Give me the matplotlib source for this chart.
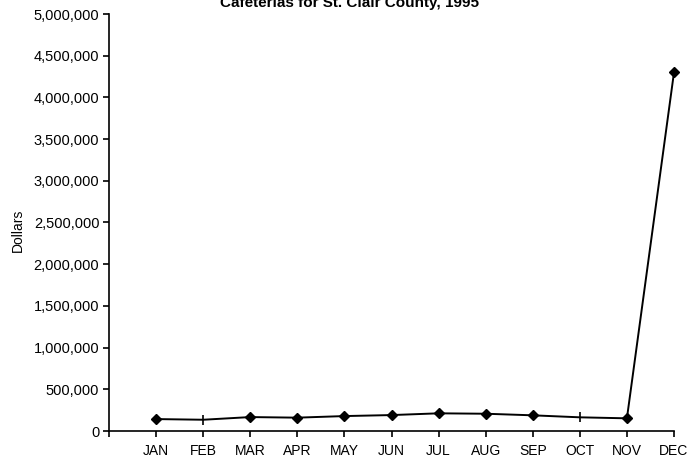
import matplotlib
matplotlib.use('Agg')
import matplotlib.pyplot as plt
from matplotlib.ticker import FuncFormatter

plt.rcParams['font.family'] = ['Liberation Sans', 'DejaVu Sans']

# Monthly cafeteria dollars
months = ['JAN', 'FEB', 'MAR', 'APR', 'MAY', 'JUN',
          'JUL', 'AUG', 'SEP', 'OCT', 'NOV', 'DEC']
dollars = [143000, 135000, 167000, 160000, 179000, 191000,
           212000, 207000, 188000, 164000, 152000, 4300000]
title = 'Cafeterias for St. Clair County, 1995'

fig = plt.figure(figsize=(6.99, 4.61), dpi=100)
ax = fig.add_axes([109 / 699, 1 - 431 / 461, (674 - 109) / 699, (431 - 14) / 461])

x = list(range(1, len(months) + 1))
ax.plot(x, dollars, color='black', linewidth=1.4, zorder=2, clip_on=False)
# Excel drew FEB and OCT with a bar-shaped marker, the rest as diamonds
for xi, yi, m in zip(x, dollars, months):
    if m in ('FEB', 'OCT'):
        ax.plot(xi, yi, marker='|', color='black', markersize=7, mew=1.2,
                zorder=3, clip_on=False)
    else:
        ax.plot(xi, yi, marker='D', color='black', markersize=5.5,
                zorder=3, clip_on=False)

ax.set_xlim(0, 12)
ax.set_ylim(0, 5000000)
ax.set_xticks(range(0, 13))
ax.set_xticklabels([''] + months)
ax.set_yticks(range(0, 5000001, 500000))
ax.yaxis.set_major_formatter(FuncFormatter(lambda v, p: f'{int(v):,}'))

for side in ('top', 'right'):
    ax.spines[side].set_visible(False)
for side in ('left', 'bottom'):
    ax.spines[side].set_linewidth(1.2)
    ax.spines[side].set_color('black')

ax.tick_params(axis='both', direction='out', length=4, width=1.2, colors='black')
ax.tick_params(axis='y', labelsize=10.5, pad=3)
ax.tick_params(axis='x', labelsize=10, pad=5)

fig.text(18 / 699, 1 - 230 / 461, 'Dollars', rotation=90, ha='center', va='center', fontsize=10)
fig.text(0.5, 1 - 7 / 461, title, ha='center', va='baseline', fontsize=11, fontweight='bold')

fig.savefig('out.png', dpi=100)
